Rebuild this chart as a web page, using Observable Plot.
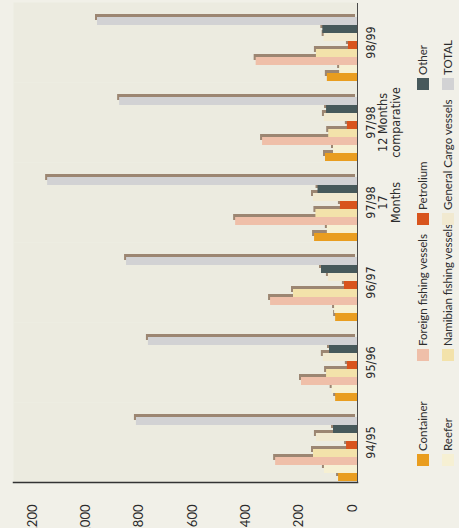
<!DOCTYPE html>
<html><head><meta charset="utf-8">
<script src="https://cdn.jsdelivr.net/npm/d3@7"></script>
<script src="https://cdn.jsdelivr.net/npm/@observablehq/plot@0.6"></script>
<style>
html,body{margin:0;padding:0;background:#f1f0e8;overflow:hidden;width:459px;height:528px;}
#rot{position:absolute;left:0;top:0;width:528px;height:459px;transform-origin:0 0;transform:translate(0,528px) rotate(-90deg);background:#f1f0e8;}
#legend{position:relative;height:49px;font-family:Lato,sans-serif;font-size:11.5px;color:#2d2d2d;}
.item{position:absolute;display:flex;align-items:center;gap:3px;white-space:nowrap;line-height:12px;}
.sw{width:12px;height:12px;flex:none;}
</style></head><body><div id="rot"><div id="chart"></div><div id="legend"></div></div>
<script>
const categories = ["94/95", "95/96", "96/97", "97/98\n17\nMonths", "97/98\n12 Months\ncomparative", "98/99"];
const series = ["Container", "Reefer", "Foreign fishing vessels", "Namibian fishing vessels", "Petrolium", "General Cargo vessels", "Other", "TOTAL"];
const container    = [71, 82, 82, 161, 120, 113];
const reefer       = [124, 95, 86, 113, 90, 67];
const foreign      = [307, 210, 326, 457, 356, 380];
const namibian     = [165, 116, 240, 156, 108, 154];
const petrolium    = [41, 38, 49, 64, 38, 34];
const generalCargo = [154, 128, 109, 165, 124, 125];
const other        = [90, 105, 135, 148, 116, 130];
const total        = [829, 784, 866, 1162, 892, 975];
const yTicks = [0, 200, 400, 600, 800, 1000, 1200];
const colors = ["#e99d1f", "#f6f0d3", "#efbfa9", "#f3e2aa", "#d8541d", "#f1e9d0", "#47595b", "#d2d2d4"];

const seriesValues = [container, reefer, foreign, namibian, petrolium, generalCargo, other, total];
const rows = [];
categories.forEach((c, i) => series.forEach((s, j) => rows.push({category: c, series: s, value: seriesValues[j][i]})));

const plot = Plot.plot({
  width: 528, height: 410,
  marginLeft: 45, marginRight: 3, marginTop: 13, marginBottom: 53,
  style: {background: "transparent", fontFamily: "Lato, sans-serif", color: "#2b2b2b"},
  fx: {domain: categories, padding: 0, label: null},
  x: {domain: series, paddingInner: 0, paddingOuter: 0.6, align: 0.1, axis: null},
  y: {domain: [0, 1290]},
  color: {domain: series, range: colors},
  marks: [
    Plot.frame({fill: "#ecebe0", stroke: "none"}),
    Plot.barY(rows, {fx: "category", x: "series", y: "value", fill: "#9c8672", dx: 3, dy: -2, insetLeft: 2}),
    Plot.barY(rows, {fx: "category", x: "series", y: "value", fill: "series"}),
    Plot.ruleY([0], {stroke: "#4a4a4a", strokeWidth: 1}),
    Plot.frame({anchor: "left", fx: () => categories[0], stroke: "#333", strokeWidth: 1.5}),
    Plot.axisY({anchor: "left", ticks: yTicks, tickSize: 0, tickPadding: 22, dy: -5, fontSize: 13, label: null}),
    Plot.axisFx({anchor: "bottom", tickSize: 0, tickPadding: 9, fontSize: 12.5, lineHeight: 0.98,
      fontFamily: "'Liberation Sans Narrow', 'DejaVu Sans Condensed', Lato, sans-serif", label: null})
  ]
});
document.getElementById("chart").appendChild(plot);

const colLeft = [62, 167, 303, 438];
const rowTop = [7, 32];
const legend = document.getElementById("legend");
series.forEach((s, i) => {
  const c = Math.floor(i / 2), r = i % 2;
  const item = document.createElement("div");
  item.className = "item";
  item.style.left = colLeft[c] + "px";
  item.style.top = rowTop[r] + "px";
  item.innerHTML = `<span class="sw" style="background:${colors[i]}"></span><span>${s}</span>`;
  legend.appendChild(item);
});
</script></body></html>
